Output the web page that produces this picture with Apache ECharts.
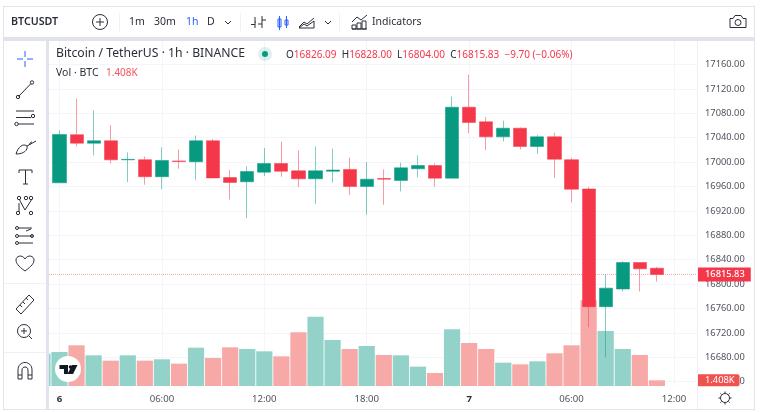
<!DOCTYPE html>
<html>
<head>
<meta charset="utf-8">
<title>BTCUSDT</title>
<style>
html,body{margin:0;padding:0;background:#fff;}
#chart{width:760px;height:412px;}
</style>
<script src="https://cdn.jsdelivr.net/npm/echarts@6/dist/echarts.min.js"></script>
</head>
<body>
<div id="chart"></div>
<script>
// hours counted from 00:00 of the 6th
var hours   = [0,1,2,3,4,5,6,7,8,9,10,11,12,13,14,15,16,17,18,19,20,21,22,23,24,25,26,27,28,29,30,31,32,33,34,35];
var opens   = [16966,17045,17031,17035,17003.7,17004,16976,17002,17000.5,17035,16974.7,16967.7,16983.5,16997.7,16985.7,16972.6,16985,16988,16960,16973,16970,16989,16994.4,16973.7,17090,17066,17041.4,17055.6,17025.6,17041.4,17004,16956,16763,16792,16835.4,16826.09];
var closes  = [17045.3,17031,17035,17003.7,17004.5,16976,17002.6,17001,17035,16974,16966.6,16984.6,16997.7,16985,16972.6,16985.7,16987,16960,16972,16972,16990.6,16994.4,16973.7,17090,17065,17041.4,17055.6,17025.6,17041.4,17004.8,16955.6,16763,16793.4,16835.4,16825,16815.83];
var lows    = [16966,17025.6,17011,16998,16967,16963,16955.6,16989,16971,16973.6,16938.7,16908,16977,16976,16959,16931.6,16966.6,16946,16913.6,16930,16952,16975,16959.5,16973.7,17047.5,17019.6,17034,17021,17013.6,16974,16934,16729.4,16680,16788,16788,16804];
var highs   = [17051.8,17104,17084.6,17060.6,17016,17009,17024,17020.7,17043.6,17038,16987,16993,17023,17033.8,17019,17025.6,17022,17007.5,17000,16988,16999,17011,16997.7,17107.5,17143,17074,17068,17056.7,17044.7,17048,17007,16959.5,16815.8,16837.6,16835.4,16828];
var volHours = [-1,0,1,2,3,4,5,6,7,8,9,10,11,12,13,14,15,16,17,18,19,20,21,22,23,24,25,26,27,28,29,30,31,32,33,34,35];
var volumes  = [7.99,8.4,10.05,7.58,6.26,7.58,6.26,6.59,5.52,9.47,6.92,9.55,9.14,8.56,7.33,13.26,17.12,11.36,9.14,9.88,7.65,7.58,4.78,3.21,14.0,10.62,9.14,5.76,5.35,6.09,8.07,10.05,21.16,13.58,9.14,7.65,1.408];
var volUp    = [1,1,0,1,0,1,0,1,0,1,0,0,1,1,0,0,1,1,0,1,0,1,1,0,1,0,0,1,0,1,0,0,0,1,1,0,0];
var timeTicks  = [0,6,12,18,24,30,36];
var timeLabels = ['6','06:00','12:00','18:00','7','06:00','12:00'];
var lastPrice = 16815.83;
var lastVolume = 1.408;
var xMin = -0.615, xMax = 37.35;

var UP = '#089981', DOWN = '#f5374a', GRID = '#f3f5fa', INK = '#2a2e39', BAND = '#e0e3eb', BLUE = '#2962ff';
var FONT = '"Noto Sans", sans-serif';

var candleData = hours.map(function (h, i) { return [h, opens[i], closes[i], lows[i], highs[i]]; });
var volData = volHours.map(function (h, i) {
    return {
        value: [h, volumes[i]],
        itemStyle: { color: volUp[i] ? '#92d2c9' : '#f7a9a7' }
    };
});

function xAxisBase(grid) {
    return {
        type: 'value', gridIndex: grid, min: xMin, max: xMax,
        axisLine: { show: false }, axisTick: { show: false }, splitLine: { show: false }, axisLabel: { show: false }
    };
}

function txt(x, y, text, size, color, weight) {
    return { type: 'text', z: 50, style: { x: x, y: y, text: text, fontSize: size, fill: color || INK, fontFamily: FONT, fontWeight: weight || 'normal', verticalAlign: 'middle' } };
}
function rect(x, y, w, h, color) {
    return { type: 'rect', z: 40, shape: { x: x, y: y, width: w, height: h }, style: { fill: color } };
}
var iconCount = 0;
function pathShape(d) {
    var name = 'tbIcon' + (iconCount++);
    echarts.graphic.registerShape(name, echarts.graphic.extendPath(d));
    return name;
}
function icon(d, color) {
    return { type: pathShape(d), z: 50, style: { fill: 'none', stroke: color || INK, lineWidth: 1 } };
}
function ring(x, y, r, color) {
    return { type: 'circle', z: 50, shape: { cx: x, cy: y, r: r }, style: { fill: 'none', stroke: color || INK, lineWidth: 1 } };
}

var chrome = [
    // frame and bands
    rect(4, 41, 42, 368, '#fff'),
    rect(3, 6, 752, 1, BAND), rect(3, 6, 1, 404, BAND), rect(754, 6, 1, 404, BAND), rect(3, 409, 752, 1, BAND),
    rect(4, 37, 750, 4, BAND), rect(46, 41, 3, 368, BAND),
    rect(4, 283, 42, 1, '#eef0f5'), rect(4, 352, 42, 1, '#eef0f5'),
    rect(119, 13, 1, 18, '#eef0f5'), rect(240, 13, 1, 18, '#eef0f5'), rect(339, 13, 1, 18, '#eef0f5'),
    rect(697, 41, 1, 368, '#eef0f5'),
    // top toolbar
    txt(11, 22, 'BTCUSDT', 10.7, INK, 600),
    ring(100, 22, 7.5), icon('M96 22H104M100 18V26'),
    txt(129, 22.5, '1m', 10.5), txt(154, 22.5, '30m', 10.5), txt(186, 22.5, '1h', 10.5, BLUE), txt(207, 22.5, 'D', 10.5),
    icon('M225 21L228 24L231 21'),
    icon('M251 24.5H255M255 28V17M255 22H256M262 28V16M262 20H266M258 24H262'),
    icon('M279.5 16V30M278 19H281V27H278ZM286.5 16V28M285 20H288V25H285Z', BLUE),
    icon('M299 27L304 22L307 24L314 18M299 28H314V21L307 26L304 24L299 28'),
    icon('M325 21L328 24L331 21'),
    icon('M352 22L357 17L361 20L367 15M352 29V25H356V29ZM357 29V23H361V29ZM362 29V21H366V29ZM352 29H367'),
    txt(372, 22.5, 'Indicators', 10.5),
    icon('M730 18.5H733L735 15.5H741L743 18.5H746V27.5H730Z'), ring(738, 22.5, 3),
    // left toolbar
    icon('M17 59H23M27 59H33M25 51V57M25 61V67', BLUE),
    icon('M18.5 96.5L31 83.5'), ring(18, 97, 1.7), ring(32, 82.5, 1.7),
    icon('M16 111H34M16 117.5H31M18 124H34M16 111'), ring(33, 116, 1.7), ring(16.5, 124, 1.7),
    icon('M16 154C18 147 23 143 27 146C28 150 24 154 16 154ZM27 146L36 141M30 145C29 143 31 142 32 142'),
    icon('M19 170H32M19 170V173M32 170V173M25.5 170V184M23 184H28'),
    icon('M19 199L25 210L32 199M19 203V212'), ring(19, 198, 1.7), ring(26, 198, 1.7), ring(31, 198, 1.7), ring(18, 213, 1.7), ring(31, 213, 1.7),
    icon('M18 228H32M18 236H33M18 243H33M26 231L31 229'), ring(17, 228, 1.5), ring(17, 236, 1.5), ring(17, 243, 1.5), ring(32, 236, 1.5),
    icon('M25 271C18 266 16 263 16 260C16 256 22 254 25 259C28 254 34 256 34 260C34 263 32 266 25 271Z'),
    icon('M16 309L29 295L34 300L21 314ZM20 305L22 307M23 302L25 304M26 298L28 300'),
    ring(24, 331, 6.5), icon('M21 331H27M24 328V334M29 336L32 339'),
    icon('M18 379V370C18 360 32 360 32 370V379H28V370C28 366 22 366 22 370V379ZM18 375H22M28 375H32'),
    // legend
    txt(56, 54, 'Bitcoin / TetherUS · 1h · BINANCE', 12.2),
    { type: 'circle', z: 50, shape: { cx: 265, cy: 54, r: 7 }, style: { fill: 'rgba(8,153,129,0.14)' } },
    { type: 'circle', z: 50, shape: { cx: 265, cy: 54, r: 3 }, style: { fill: UP } },
    {
        type: 'text', z: 50,
        style: {
            x: 286, y: 55, verticalAlign: 'middle', fontSize: 10, fontFamily: FONT, fill: INK,
            text: 'O{r|16826.09}  H{r|16828.00}  L{r|16804.00}  C{r|16815.83}  {r|−9.70 (−0.06%)}',
            rich: { r: { fill: DOWN, fontSize: 10, fontFamily: FONT } }
        }
    },
    txt(56, 73, 'Vol · BTC', 10.5),
    txt(106, 73, '1.408K', 10, '#f7525f'),
    // logo
    { type: 'circle', z: 50, shape: { cx: 68, cy: 369, r: 13 }, style: { fill: '#fff' } },
    { type: pathShape('M59.5 365H68V374H64V369H59.5ZM72 365H77.5L73 374H67.5Z'), z: 51, style: { fill: '#131722' } },
    { type: 'circle', z: 51, shape: { cx: 70.5, cy: 367, r: 1.8 }, style: { fill: '#131722' } },
    // settings
    ring(725, 398, 4.5),
    icon('M725 391.5V393M725 403V404.5M718.5 398H720M730 398H731.5M720.4 393.4L721.5 394.5M728.5 401.5L729.6 402.6M729.6 393.4L728.5 394.5M721.5 401.5L720.4 402.6')
];

var option = {
    animation: false,
    backgroundColor: '#fff',
    textStyle: { fontFamily: FONT },
    grid: [
        { left: 49, right: 63, top: 64.5, height: 317.2 },
        { left: 49, right: 63, top: 41, height: 345 }
    ],
    xAxis: [
        xAxisBase(0),
        {
            type: 'value', gridIndex: 1, min: xMin, max: xMax,
            axisLine: { show: false },
            axisTick: { show: false, customValues: timeTicks },
            splitLine: { show: true, customValues: timeTicks, lineStyle: { color: GRID, width: 1 } },
            axisLabel: {
                show: true, customValues: timeTicks, margin: 8, fontSize: 9.6, color: '#50535e', hideOverlap: false,
                showMinLabel: true, showMaxLabel: true,
                formatter: function (v) {
                    var s = timeLabels[timeTicks.indexOf(v)];
                    if (s === undefined) return '';
                    return s.length === 1 ? '{d|' + s + '}' : s;
                },
                rich: { d: { fontWeight: 'bold', fontSize: 9.6, color: '#2a2e39' } }
            }
        }
    ],
    yAxis: [
        {
            type: 'value', gridIndex: 0, position: 'right', min: 16640, max: 17160, interval: 40, scale: true,
            axisLine: { show: false }, axisTick: { show: false },
            splitLine: { show: true, lineStyle: { color: GRID, width: 1 } },
            axisLabel: { margin: 8, fontSize: 9.3, color: '#50535e', padding: [3, 0, 0, 0], showMinLabel: true, showMaxLabel: true, formatter: function (v) { return v.toFixed(2); } }
        },
        { type: 'value', gridIndex: 1, position: 'right', min: 0, max: 85.2, show: false }
    ],
    series: [
        {
            name: 'Vol', type: 'bar', xAxisIndex: 1, yAxisIndex: 1, data: volData, barWidth: 16.2, z: 1, clip: true,
            markLine: {
                silent: true, symbol: 'none', animation: false, z: 20,
                lineStyle: { color: 'rgba(0,0,0,0)', width: 0 },
                label: {
                    position: 'end', distance: 0, formatter: '1.408K', color: '#fff', fontSize: 9.3,
                    backgroundColor: '#ef5350', padding: [2, 5, 1, 8], borderRadius: [0, 2, 2, 0]
                },
                data: [{ yAxis: lastVolume }]
            }
        },
        {
            // last price dotted line
            name: 'Last', type: 'line', xAxisIndex: 0, yAxisIndex: 0, z: 2, showSymbol: false, silent: true,
            data: [[xMin, lastPrice], [xMax, lastPrice]],
            lineStyle: { color: '#f9a6ae', type: 'dotted', width: 1 }
        },
        {
            name: 'BTCUSDT', type: 'candlestick', xAxisIndex: 0, yAxisIndex: 0, barWidth: 13.6, z: 3,
            encode: { x: 0, y: [1, 2, 3, 4] },
            data: candleData,
            itemStyle: { color: UP, color0: DOWN, borderColor: 'rgba(8,153,129,0.5)', borderColor0: 'rgba(245,55,74,0.5)', borderWidth: 1 },
            markLine: {
                silent: true, symbol: 'none', animation: false, z: 20,
                lineStyle: { color: 'rgba(0,0,0,0)', width: 0 },
                label: {
                    position: 'end', distance: 0, color: '#fff', fontSize: 9.3, fontWeight: 500,
                    backgroundColor: DOWN, padding: [3, 6, 2, 8],
                    formatter: function () { return lastPrice.toFixed(2); }
                },
                data: [{ yAxis: lastPrice }]
            }
        }
    ],
    graphic: chrome
};

var chart = echarts.init(document.getElementById('chart'), null, { renderer: 'canvas' });
chart.setOption(option);
</script>
</body>
</html>
